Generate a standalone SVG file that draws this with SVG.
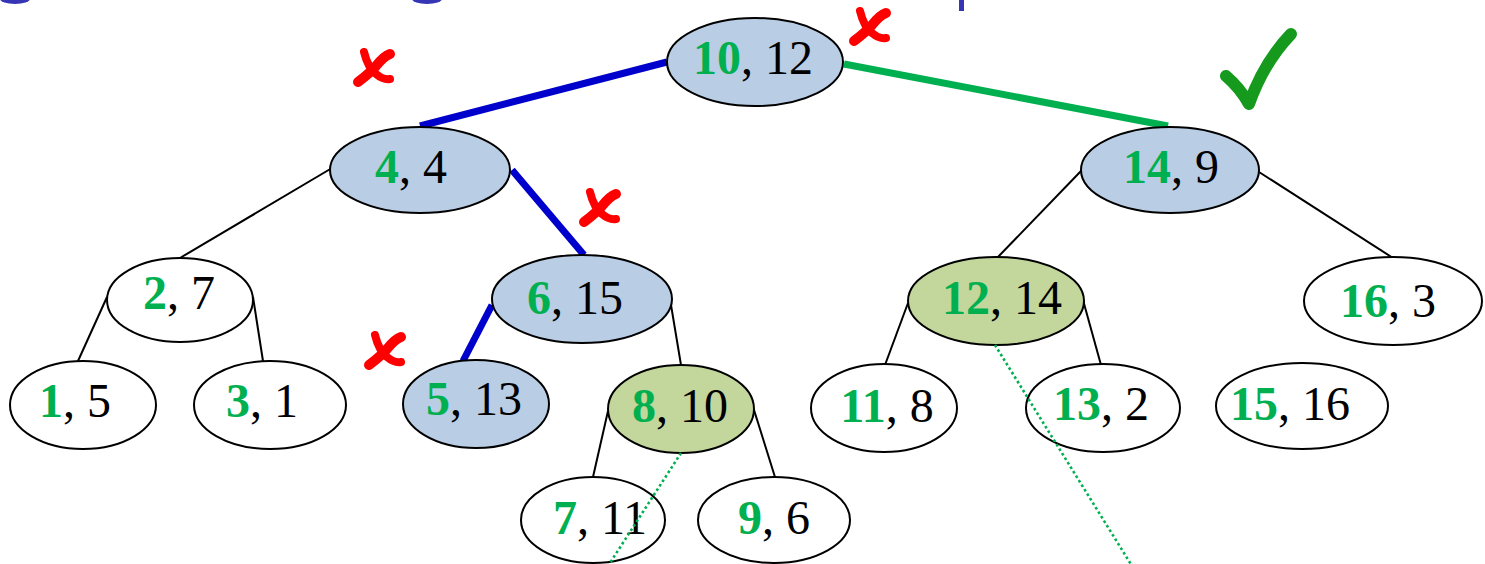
<svg xmlns="http://www.w3.org/2000/svg" width="1485" height="564" viewBox="0 0 1485 564">
<style>
.nb{fill:#B9CDE5;stroke:#000;stroke-width:2}
.ng{fill:#C3D69B;stroke:#000;stroke-width:2}
.nw{fill:#FFFFFF;stroke:#000;stroke-width:2}
.t{font-family:"Liberation Serif","Times New Roman",serif;font-size:48px;fill:#000;text-anchor:middle}
.k{fill:#00B050;font-weight:bold}
.e{stroke:#000;stroke-width:2;fill:none}
.eb{stroke:#0000CC;stroke-width:7;fill:none}
.eg{stroke:#00B050;stroke-width:7;fill:none}
.dot{stroke:#00B050;stroke-width:2.6;stroke-dasharray:2.6 2.7;fill:none}
.x{stroke:#FF0000;fill:none;stroke-linecap:round}
</style>
<defs>
<g id="xmark">
<path class="x" d="M6,36 Q18,27 24,20 Q32,10 38,8" stroke-width="10"/>
<path class="x" d="M12,6 Q16,22 24,28 Q31,34 38,33" stroke-width="8"/>
</g>
</defs>
<rect width="1485" height="564" fill="#FFFFFF"/>
<g id="title-fragment" fill="#3535B5">
<ellipse cx="15" cy="-1" rx="15" ry="5"/>
<ellipse cx="427" cy="-1" rx="15" ry="5"/>
<rect x="959" y="0" width="5" height="11"/>
</g>
<g id="connectors">
<line class="eb" x1="667" y1="62" x2="420" y2="126"/>
<line class="eg" x1="844" y1="64" x2="1168" y2="126"/>
<line class="e" x1="332" y1="168" x2="180" y2="258"/>
<line class="eb" x1="512" y1="170" x2="584" y2="255"/>
<line class="e" x1="1081" y1="171" x2="997" y2="258"/>
<line class="e" x1="1259" y1="172" x2="1393" y2="258"/>
<line class="e" x1="107" y1="297" x2="78" y2="361"/>
<line class="e" x1="253" y1="297" x2="263" y2="361"/>
<line class="eb" x1="492" y1="305" x2="463" y2="361"/>
<line class="e" x1="671" y1="305" x2="681" y2="365"/>
<line class="e" x1="908" y1="303" x2="885" y2="365"/>
<line class="e" x1="1083" y1="300" x2="1101" y2="365"/>
<line class="e" x1="608" y1="411" x2="593" y2="477"/>
<line class="e" x1="754" y1="410" x2="775" y2="477"/>
</g>
<g id="n10_12"><ellipse class="nb" cx="755" cy="62" rx="88" ry="44"/><text class="t" x="753" y="74"><tspan class="k">10</tspan>, 12</text></g>
<g id="n4_4"><ellipse class="nb" cx="420" cy="170" rx="90" ry="43"/><text class="t" x="411" y="183"><tspan class="k">4</tspan>, 4</text></g>
<g id="n14_9"><ellipse class="nb" cx="1170" cy="170" rx="89" ry="43"/><text class="t" x="1171" y="183"><tspan class="k">14</tspan>, 9</text></g>
<g id="n2_7"><ellipse class="nw" cx="180" cy="300" rx="73" ry="42"/><text class="t" x="179" y="309"><tspan class="k">2</tspan>, 7</text></g>
<g id="n6_15"><ellipse class="nb" cx="582" cy="299" rx="90" ry="44"/><text class="t" x="575" y="314"><tspan class="k">6</tspan>, 15</text></g>
<g id="n12_14"><ellipse class="ng" cx="996" cy="301" rx="88" ry="44"/><text class="t" x="1002" y="314"><tspan class="k">12</tspan>, 14</text></g>
<g id="n16_3"><ellipse class="nw" cx="1393" cy="301" rx="89" ry="44"/><text class="t" x="1388" y="317"><tspan class="k">16</tspan>, 3</text></g>
<g id="n1_5"><ellipse class="nw" cx="83" cy="405" rx="73" ry="44"/><text class="t" x="75" y="417"><tspan class="k">1</tspan>, 5</text></g>
<g id="n3_1"><ellipse class="nw" cx="270" cy="405" rx="76" ry="44"/><text class="t" x="262" y="417"><tspan class="k">3</tspan>, 1</text></g>
<g id="n5_13"><ellipse class="nb" cx="476" cy="404" rx="73" ry="44" stroke-width="2.5"/><text class="t" x="474" y="415"><tspan class="k">5</tspan>, 13</text></g>
<g id="n8_10"><ellipse class="ng" cx="681" cy="409" rx="73" ry="44"/><text class="t" x="680" y="422"><tspan class="k">8</tspan>, 10</text></g>
<g id="n11_8"><ellipse class="nw" cx="884" cy="408" rx="73" ry="44"/><text class="t" x="887" y="422"><tspan class="k">11</tspan>, 8</text></g>
<g id="n13_2"><ellipse class="nw" cx="1103" cy="408" rx="77" ry="44"/><text class="t" x="1101" y="420"><tspan class="k">13</tspan>, 2</text></g>
<g id="n15_16"><ellipse class="nw" cx="1302" cy="406" rx="86" ry="43"/><text class="t" x="1290" y="420"><tspan class="k">15</tspan>, 16</text></g>
<g id="n7_11"><ellipse class="nw" cx="593" cy="520" rx="72" ry="43"/><text class="t" x="600" y="534"><tspan class="k">7</tspan>, 11</text></g>
<g id="n9_6"><ellipse class="nw" cx="774" cy="520" rx="76" ry="43"/><text class="t" x="774" y="534"><tspan class="k">9</tspan>, 6</text></g>
<g id="guides">
<line class="dot" x1="681" y1="453" x2="608" y2="566"/>
<line class="dot" x1="995" y1="345" x2="1132" y2="566"/>
</g>
<g id="marks">
<use href="#xmark" x="848" y="5"/>
<use href="#xmark" x="352" y="46"/>
<use href="#xmark" x="578" y="186"/>
<use href="#xmark" x="363" y="329"/>
<path d="M1226,76 Q1240,88 1249,104 Q1264,62 1291,34" stroke="#169A1E" stroke-width="12" fill="none" stroke-linecap="round" stroke-linejoin="round"/>
</g>
</svg>
